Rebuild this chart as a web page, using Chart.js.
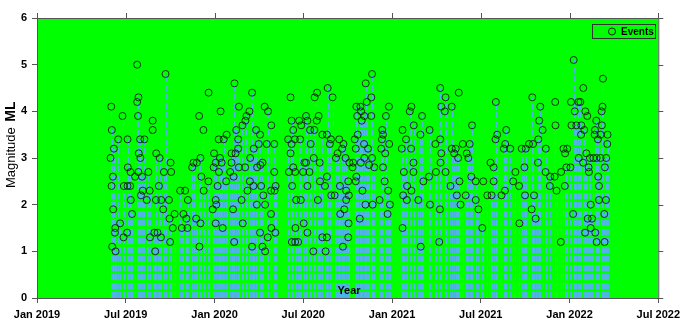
<!DOCTYPE html>
<html lang="en">
<head>
    <meta charset="UTF-8">
    <title>Event magnitudes</title>
    <script src="https://cdn.jsdelivr.net/npm/chart.js"></script>
    <style>
        body { margin: 0; background: #fff; }
        canvas { display: block; }
    </style>
</head>
<body>
    <canvas id="stemChart" width="685" height="326"></canvas>

    <script>
        // x = months since Jan 2019, y = magnitude ML
        const tickLabels = ['Jan 2019', 'Jul 2019', 'Jan 2020', 'Jul 2020', 'Jan 2021', 'Jul 2021', 'Jan 2022', 'Jul 2022'];

        const events2019 = [[4.97,3.0],[5.02,4.1],[5.04,2.4],[5.06,3.6],[5.08,1.1],[5.13,2.6],[5.15,1.9],[5.2,3.2],[5.27,1.4],[5.29,1.5],[5.31,1.0],[5.49,3.4],[5.62,1.6],[5.78,3.9],[5.85,1.3],[5.87,2.4],[6.09,1.4],[6.12,3.4],[6.12,2.4],[6.14,2.8],[6.3,2.4],[6.32,2.7],[6.34,2.1],[6.43,1.8],[6.63,2.6],[6.77,5.0],[6.77,4.2],[6.83,3.9],[6.85,2.7],[6.86,4.3],[6.88,3.1],[6.97,3.4],[6.99,3.0],[7.03,2.2],[7.1,2.6],[7.15,2.3],[7.26,3.4],[7.42,2.1],[7.53,2.7],[7.62,2.3],[7.64,1.3],[7.82,3.8],[7.82,3.6],[7.93,1.4],[7.99,1.0],[8.04,2.1],[8.06,3.1],[8.15,1.4],[8.24,2.4],[8.29,3.0],[8.38,1.3],[8.4,2.1],[8.53,1.9],[8.58,2.7],[8.69,4.8],[8.92,2.1],[8.96,1.7],[9.0,1.2],[9.03,2.9],[9.07,2.7],[9.18,1.5],[9.3,1.8],[9.68,2.3],[9.79,1.5],[9.9,1.8],[10.01,2.3],[10.1,1.7],[10.17,1.5],[10.2,2.1],[10.49,2.8],[10.58,2.9],[10.76,1.7],[10.8,2.9],[10.96,3.9],[10.98,1.1],[11.05,3.0],[11.05,1.6],[11.11,2.6],[11.25,3.6],[11.27,2.3],[11.59,2.5],[11.6,4.4],[11.88,1.9],[11.94,2.8],[11.97,3.1]];

        const events2020 = [[12.08,2.9],[12.08,2.1],[12.08,1.6],[12.12,2.0],[12.21,2.4],[12.28,3.4],[12.3,2.7],[12.37,3.0],[12.41,4.0],[12.48,2.9],[12.55,1.5],[12.62,3.4],[12.79,2.5],[12.82,3.5],[13.06,2.7],[13.15,3.1],[13.15,2.9],[13.25,1.9],[13.29,2.6],[13.33,1.2],[13.35,4.6],[13.42,3.1],[13.47,3.6],[13.6,3.4],[13.6,3.2],[13.65,4.1],[13.65,2.8],[13.83,2.1],[13.89,3.7],[13.91,1.6],[14.07,2.8],[14.09,3.8],[14.16,3.9],[14.23,2.3],[14.36,4.0],[14.39,2.5],[14.41,3.0],[14.54,4.4],[14.54,1.1],[14.63,2.4],[14.65,3.2],[14.81,3.6],[14.86,2.0],[14.88,2.8],[14.99,3.3],[15.08,3.5],[15.08,1.4],[15.1,2.85],[15.15,2.4],[15.24,2.9],[15.24,1.1],[15.3,2.2],[15.39,4.1],[15.42,2.0],[15.42,1.0],[15.53,3.3],[15.6,1.3],[15.62,4.0],[15.82,1.8],
            [15.84,3.7],[15.82,2.3],[15.84,1.5],[16.04,3.3],[16.04,2.7],[16.06,2.3],[16.11,1.4],[16.13,2.4],[16.98,3.4],[17.03,2.7],[17.14,4.3],[17.14,3.1],[17.21,3.8],[17.21,3.3],[17.23,1.2],[17.25,2.4],[17.32,3.6],[17.32,2.8],[17.43,3.4],[17.45,2.7],[17.45,1.2],[17.47,1.5],[17.52,2.1],[17.65,1.2],[17.72,3.8],[17.79,3.4],[17.83,2.1],[17.86,3.7],[17.99,2.7],[18.03,1.6],[18.08,2.9],[18.19,3.9],[18.19,2.9],[18.28,3.8],[18.28,2.4],[18.28,1.4],[18.42,2.7],[18.46,3.6],[18.5,3.3],[18.68,1.0],[18.71,3.0],[18.75,3.6],[18.77,4.3],[18.91,3.8],[18.93,4.4],[18.99,2.1],[19.04,3.9],[19.11,2.9],[19.13,2.5],[19.29,3.5],[19.29,1.3],[19.47,2.4],[19.51,1.0],[19.6,3.5],[19.6,2.6],[19.6,1.3],[19.65,4.5],[19.8,3.3],[19.87,3.4],[19.89,2.2],[19.98,4.3],[20.12,2.2],[20.21,3.0],[20.32,3.1],[20.43,3.4],[20.48,2.4],[20.5,1.8],[20.63,3.2],[20.68,1.1],[20.72,3.3],[20.77,1.9],[20.86,3.0],[20.9,2.3],[20.9,2.1],[21.04,2.5],[21.04,1.3],[21.06,1.6],[21.08,2.2],[21.12,2.9],[21.33,2.8],
            [21.37,2.9],[21.48,3.4],[21.55,3.2],[21.55,2.5],[21.59,4.1],[21.59,2.6],[21.64,3.9],[21.68,3.5],[21.82,1.7],[21.86,4.1],[21.89,2.9],[21.91,4.0],[21.95,3.8],[22.0,2.3],[22.11,3.3],[22.13,3.9],[22.13,3.0],[22.2,2.0],[22.22,4.6],[22.29,4.2],[22.38,3.2],[22.45,2.85],[22.6,4.3],[22.6,3.9],[22.65,4.8],[22.65,3.0],[22.69,2.0],[22.8,2.8],[23.16,2.1],[23.27,3.2],[23.32,3.4],[23.34,3.6],[23.39,3.5],[23.39,2.8],[23.5,2.5],[23.54,3.1],[23.59,3.9],[23.7,1.8],[23.74,2.3],[23.79,4.1],[23.81,3.3],[23.86,2.0]];

        const events2021 = [[24.66,3.2],[24.71,3.6],[24.71,1.5],[24.75,2.2],[24.8,2.7],[24.95,3.4],[25.0,2.1],[25.02,2.4],[25.2,4.0],[25.29,3.2],[25.31,4.1],[25.31,2.3],[25.45,2.9],[25.45,2.7],[25.47,3.7],[25.78,2.1],[25.92,3.5],[25.94,1.1],[26.03,3.9],[26.12,2.5],[26.5,2.6],[26.54,3.6],[26.57,2.0],[26.93,3.3],[26.97,2.7],[27.24,1.9],[27.26,4.5],[27.26,3.4],[27.28,2.9],[27.33,4.1],[27.33,3.1],
            [27.19,1.2],[27.57,4.0],[27.62,4.3],[27.62,2.7],[27.95,2.4],[28.04,4.1],[28.04,3.2],[28.2,3.1],[28.31,3.2],[28.38,2.2],[28.47,3.0],[28.51,4.4],[28.56,2.5],[28.63,2.0],[28.78,3.3],[28.98,2.2],[29.05,3.1],[29.16,3.0],[29.25,3.3],[29.36,2.6],[29.41,3.7],[29.66,2.5],[29.66,2.1],[29.84,1.9],[30.1,1.5],[30.17,2.5],[30.44,2.2],[30.66,2.9],[30.73,2.2],[30.87,2.8],[30.87,2.5],[31.0,3.4],[31.02,4.2],[31.11,3.5],[31.4,2.2],[31.56,3.2],[31.63,2.3],[31.65,3.3],[31.72,3.6],[31.99,3.2],[32.19,2.5],[32.34,2.7],[32.59,2.4],[32.61,1.6],[32.77,3.2],[32.95,2.8],[32.99,2.2],[33.04,3.2],
            [33.26,3.3],[33.44,1.9],[33.48,4.3],[33.53,3.3],[33.6,2.2],[33.71,1.7],[33.87,2.9],[33.89,3.4],[33.95,3.8],[34.02,4.1],[34.18,3.6],[34.38,2.7],[34.4,3.2],[34.67,2.4],[34.69,2.6],[34.99,2.6],[35.03,4.2],[35.05,3.7],[35.12,2.3],[35.41,1.2],[35.43,2.7],[35.59,3.2],[35.68,2.4],[35.7,3.1],[35.79,2.8],[35.84,3.2]];

        const events2022 = [[36.06,2.8],[36.1,4.2],[36.13,3.7],[36.24,1.8],[36.28,5.1],[36.35,4.0],[36.46,3.7],[36.6,4.2],[36.62,3.0],[36.73,4.2],[36.78,3.5],[36.8,3.7],[36.92,2.9],[36.93,4.5],[37.0,3.6],[37.05,1.4],[37.07,4.0],[37.14,3.1],[37.2,3.9],[37.23,1.7],[37.29,2.8],[37.31,2.7],[37.38,3.0],[37.43,2.0],[37.43,1.5],[37.52,1.7],[37.61,3.0],[37.7,3.5],[37.72,3.6],[37.74,1.4],[37.81,3.8],[37.83,3.0],[37.83,1.2],[37.92,3.4],[37.94,2.6],[37.99,2.4],[37.99,2.1],[38.1,3.5],[38.1,3.0],[38.17,4.0],[38.19,3.7],[38.23,4.1],[38.26,4.7],[38.35,1.8],[38.37,1.2],[38.39,2.8],[38.46,2.1],[38.48,3.0],[38.55,3.3],[38.57,3.5]];

        const events = [...events2019, ...events2020, ...events2021, ...events2022]
            .map(([x, y]) => ({ x, y }));

        const FONT = 'Arial, "Liberation Sans", sans-serif';
        const STEM = 'rgb(80, 180, 230)';
        const FRAME = '#555';

        // green plot area, dashed stems, frame, legend and axis texts
        const stemPlugin = {
            id: 'stems',
            beforeDraw(chart) {
                const { ctx, chartArea: a } = chart;
                ctx.save();
                ctx.fillStyle = '#00ff00';
                ctx.fillRect(a.left, a.top, a.right - a.left, a.bottom - a.top);
                ctx.restore();
            },
            beforeDatasetsDraw(chart) {
                const { ctx, scales: { x, y } } = chart;
                const base = y.getPixelForValue(0);
                ctx.save();
                ctx.strokeStyle = STEM;
                ctx.lineWidth = 1;
                ctx.setLineDash([6, 3]);
                chart.data.datasets[0].data.forEach(p => {
                    const px = Math.round(x.getPixelForValue(p.x)) + 0.5;
                    ctx.beginPath();
                    ctx.moveTo(px, base);
                    ctx.lineTo(px, y.getPixelForValue(p.y));
                    ctx.stroke();
                });
                ctx.restore();
            },
            afterDraw(chart) {
                const { ctx, chartArea: a, scales: { x, y } } = chart;
                ctx.save();
                // top and right frame with outward ticks
                ctx.strokeStyle = FRAME;
                ctx.lineWidth = 1;
                ctx.beginPath();
                ctx.moveTo(a.left, a.top + 0.5);
                ctx.lineTo(a.right + 0.5, a.top + 0.5);
                ctx.lineTo(a.right + 0.5, a.bottom);
                x.ticks.forEach(t => {
                    const px = Math.round(x.getPixelForValue(t.value)) + 0.5;
                    ctx.moveTo(px, a.top);
                    ctx.lineTo(px, a.top - 5);
                });
                y.ticks.forEach(t => {
                    const py = Math.round(y.getPixelForValue(t.value)) + 0.5;
                    ctx.moveTo(a.right, py);
                    ctx.lineTo(a.right + 5, py);
                });
                ctx.stroke();

                // legend box
                const lx = 592.5, ly = 24.5, lw = 63, lh = 14;
                ctx.strokeStyle = '#333';
                ctx.strokeRect(lx, ly, lw, lh);
                ctx.strokeStyle = STEM;
                ctx.setLineDash([3, 2]);
                ctx.beginPath();
                ctx.moveTo(597, ly + lh / 2);
                ctx.lineTo(608, ly + lh / 2);
                ctx.stroke();
                ctx.setLineDash([]);
                ctx.strokeStyle = '#1a1a1a';
                ctx.beginPath();
                ctx.arc(612, ly + lh / 2, 3.5, 0, Math.PI * 2);
                ctx.stroke();
                ctx.fillStyle = '#000';
                ctx.font = 'bold 10px ' + FONT;
                ctx.textAlign = 'left';
                ctx.textBaseline = 'middle';
                ctx.fillText('Events', 621, ly + lh / 2 + 0.5);

                // x title sits inside the plot area
                ctx.font = 'bold 11px ' + FONT;
                ctx.textAlign = 'center';
                ctx.textBaseline = 'alphabetic';
                ctx.fillText('Year', 349, 294);

                // y title: "Magnitude" + bold "ML"
                ctx.translate(15, 188);
                ctx.rotate(-Math.PI / 2);
                ctx.textAlign = 'left';
                ctx.font = '13px ' + FONT;
                ctx.fillText('Magnitude', 0, 0);
                const w = ctx.measureText('Magnitude ').width;
                ctx.font = 'bold 14px ' + FONT;
                ctx.fillText('ML', w + 2, 0);
                ctx.restore();
            }
        };

        new Chart(document.getElementById('stemChart').getContext('2d'), {
            type: 'scatter',
            data: {
                datasets: [{
                    label: 'Events',
                    data: events,
                    pointStyle: 'circle',
                    pointRadius: 3.5,
                    pointBorderWidth: 1,
                    pointBorderColor: 'rgba(20, 30, 20, 0.9)',
                    pointBackgroundColor: 'rgba(0, 0, 0, 0)',
                    showLine: false
                }]
            },
            options: {
                responsive: false,
                animation: false,
                layout: { padding: { top: 18, right: 23, left: 0, bottom: 0 } },
                plugins: {
                    legend: { display: false },
                    tooltip: { enabled: false }
                },
                scales: {
                    x: {
                        type: 'linear',
                        min: 0,
                        max: 42,
                        afterFit: s => { s.height = 28; },
                        ticks: {
                            stepSize: 6,
                            autoSkip: false,
                            maxRotation: 0,
                            padding: 5,
                            color: '#000',
                            font: { family: FONT, size: 11, weight: 'bold' },
                            callback: v => tickLabels[v / 6]
                        },
                        grid: { drawOnChartArea: false, tickLength: 5, color: FRAME },
                        border: { color: FRAME }
                    },
                    y: {
                        min: 0,
                        max: 6,
                        afterFit: s => { s.width = 37; },
                        ticks: {
                            stepSize: 1,
                            padding: 5,
                            color: '#000',
                            font: { family: FONT, size: 11, weight: 'bold' }
                        },
                        grid: { drawOnChartArea: false, tickLength: 5, color: FRAME },
                        border: { color: FRAME }
                    }
                }
            },
            plugins: [stemPlugin]
        });
    </script>
</body>
</html>
